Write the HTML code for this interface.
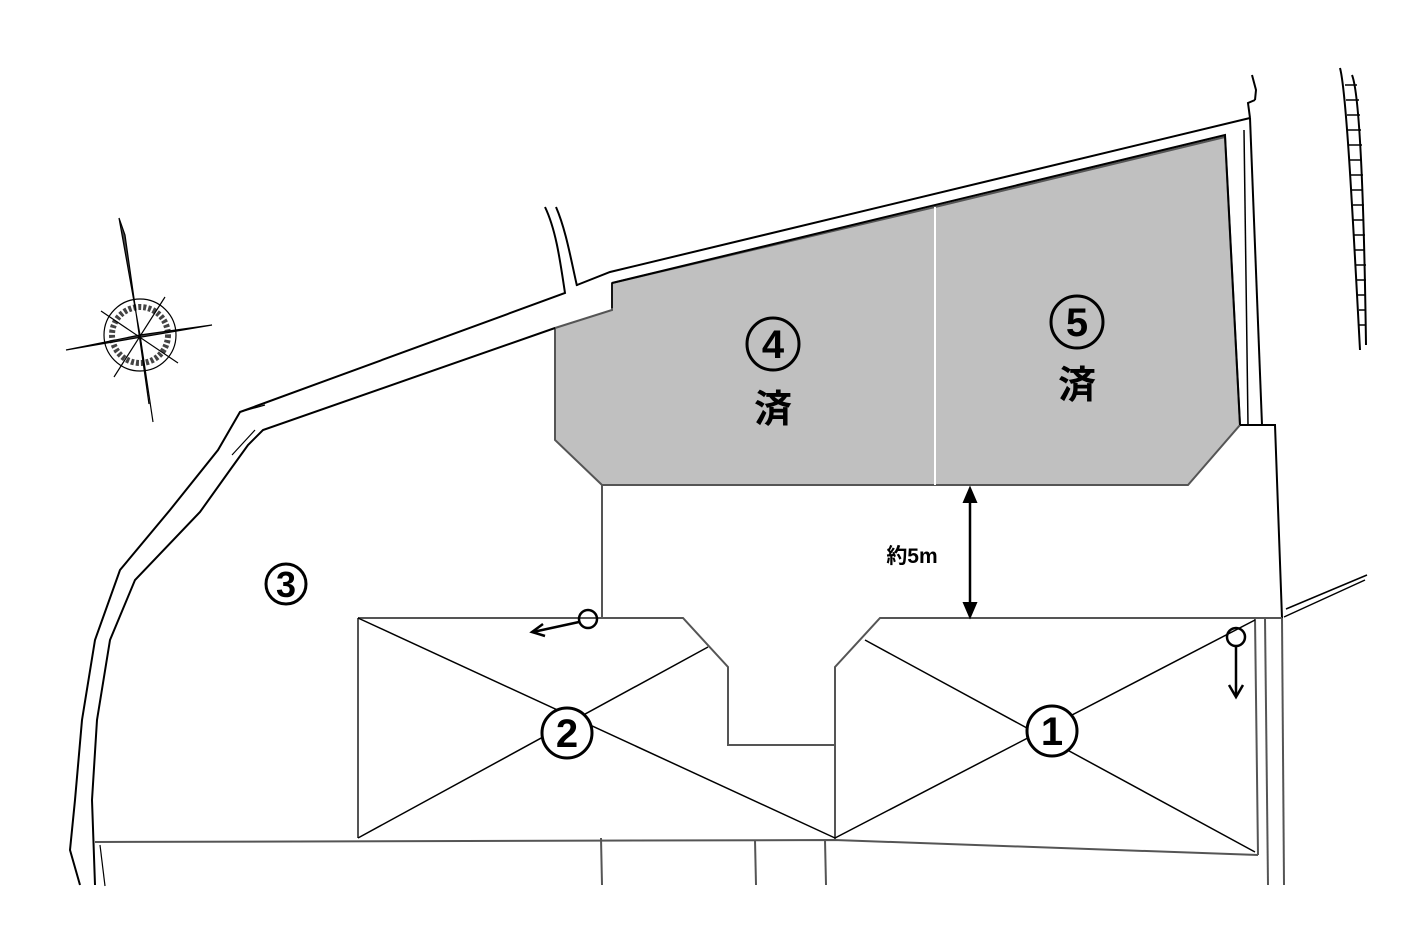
<!DOCTYPE html>
<html><head><meta charset="utf-8"><style>
html,body{margin:0;padding:0;background:#fff;width:1412px;height:932px;overflow:hidden}
svg{display:block}
text{font-family:"Liberation Sans","Noto Sans CJK JP",sans-serif;fill:#000;font-weight:bold}
</style></head><body>
<svg width="1412" height="932" viewBox="0 0 1412 932" xmlns="http://www.w3.org/2000/svg">
<g fill="none" stroke="#000" stroke-width="2">
<!-- gray lots -->
<polygon points="555,328 612,310 612,283 935,207 935,485 602,485 555,440" fill="#c0c0c0" stroke="#555"/>
<polygon points="935,207 1225,137 1240,425 1188,485 935,485" fill="#c0c0c0" stroke="#555"/>
<line x1="935" y1="207" x2="935" y2="485" stroke="#fff" stroke-width="2"/>
<!-- north wall -->
<polyline points="577,285 610,272 1250,118"/>
<polyline points="612,283 1225,135 1240,425"/>
<line x1="612" y1="283" x2="612" y2="308" stroke-width="1.5"/>
<polyline points="1250,118 1262,425" />
<polyline points="1255,100 1248,103 1250,118"/>
<polyline points="1252,75 1256,90 1255,100"/>
<polyline points="1240,425 1275,425 1282,618"/>
<line x1="1248" y1="425" x2="1244" y2="130" stroke-width="1.5"/>
<!-- left curved road -->
<path d="M545,207 C556,230 560,260 565,293 L240,412 L218,450 L170,510 L120,570 L95,640 L82,720 L75,800 L70,850 L80,885"/>
<path d="M556,207 C566,230 571,260 577,286"/>
<path d="M555,328 L263,430 L248,445 L230,470 L200,512 L135,580 L110,640 L97,720 L92,800 L95,885"/>
<path d="M232,455 L255,430" stroke-width="1.2"/>
<path d="M240,412 L265,405" stroke-width="1.2"/>
<path d="M105,886 L100,845" stroke-width="1.2"/>
<!-- driveway & buildings -->
<g stroke="#555">
<line x1="602" y1="485" x2="602" y2="618"/>
<polyline points="358,618 683,618 728,667 728,745 835,745 835,667 880,618 1282,618"/>
<line x1="358" y1="618" x2="358" y2="838"/>
<line x1="835" y1="667" x2="835" y2="840"/>
<polyline points="95,842 835,840 1258,855"/>
<line x1="1255" y1="618" x2="1258" y2="855"/>
<line x1="1265" y1="618" x2="1268" y2="885"/>
<line x1="1282" y1="618" x2="1284" y2="885"/>
<line x1="601" y1="838" x2="602" y2="885"/>
<line x1="755" y1="840" x2="756" y2="885"/>
<line x1="825" y1="840" x2="826" y2="885"/>
</g>
<g stroke="#000" stroke-width="1.5">
<line x1="358" y1="618" x2="835" y2="838"/>
<line x1="358" y1="838" x2="708" y2="647"/>
<line x1="865" y1="640" x2="1255" y2="852"/>
<line x1="835" y1="838" x2="1255" y2="620"/>
<line x1="1284" y1="617" x2="1365" y2="580"/>
<line x1="1286" y1="609" x2="1367" y2="575"/>
</g>
<!-- hatch curve -->
<path d="M1340,68 C1346,90 1352,200 1360,350" stroke-width="2"/>
<path d="M1352,75 C1360,95 1364,200 1366,345" stroke-width="2"/>
<g stroke-width="1.5">
<line x1="1345" y1="85" x2="1357" y2="85"/><line x1="1346" y1="100" x2="1359" y2="100"/><line x1="1347" y1="115" x2="1360" y2="115"/><line x1="1348" y1="130" x2="1361" y2="130"/><line x1="1349" y1="145" x2="1362" y2="145"/><line x1="1350" y1="160" x2="1362" y2="160"/><line x1="1351" y1="175" x2="1363" y2="175"/><line x1="1352" y1="190" x2="1363" y2="190"/><line x1="1353" y1="205" x2="1364" y2="205"/><line x1="1353" y1="220" x2="1364" y2="220"/><line x1="1354" y1="235" x2="1365" y2="235"/><line x1="1355" y1="250" x2="1365" y2="250"/><line x1="1356" y1="265" x2="1366" y2="265"/><line x1="1357" y1="280" x2="1366" y2="280"/><line x1="1358" y1="295" x2="1366" y2="295"/><line x1="1359" y1="310" x2="1366" y2="310"/><line x1="1359" y1="325" x2="1366" y2="325"/>
</g>
<!-- markers -->
<circle cx="588" cy="619" r="9" stroke-width="2.5"/>
<line x1="579" y1="622" x2="533" y2="632" stroke-width="2.5"/>
<polyline points="543,624 532,632 545,636" stroke-width="2.5"/>
<circle cx="1236" cy="637" r="9" stroke-width="2.5"/>
<line x1="1236" y1="646" x2="1236" y2="697" stroke-width="2.5"/>
<polyline points="1229,685 1236,697 1243,685" stroke-width="2.5"/>
<!-- dimension -->
<line x1="970" y1="490" x2="970" y2="614" stroke-width="2.5"/>
<polygon points="970,488 964,502 976,502" fill="#000"/>
<polygon points="970,617 964,603 976,603" fill="#000"/>
<!-- compass -->
<g stroke-width="1.2">
<circle cx="140" cy="335" r="36"/>
<circle cx="140" cy="335" r="28" stroke="#444" stroke-width="6" stroke-dasharray="3 2"/>
<polygon points="119,218 125,235 149,404 140,335" fill="#444"/>
<polygon points="66,350 212,325 140,335" fill="#444"/>
<line x1="140" y1="335" x2="153" y2="422"/>
<line x1="101" y1="311" x2="178" y2="363"/>
<line x1="165" y1="297" x2="114" y2="377"/>
</g>
<!-- circled number rings -->
<g stroke-width="3" fill="#fff">
<circle cx="286" cy="584" r="20"/>
<circle cx="567" cy="733" r="25"/>
<circle cx="1052" cy="731" r="25"/>
</g>
<g stroke-width="3">
<circle cx="773" cy="344" r="26"/>
<circle cx="1077" cy="322" r="26"/>
</g>
</g>
<g text-anchor="middle">
<text x="286" y="597" font-size="36">3</text>
<text x="567" y="747" font-size="40">2</text>
<text x="1052" y="745" font-size="40">1</text>
<text x="773" y="358" font-size="40">4</text>
<text x="773" y="422" font-size="38">済</text>
<text x="1077" y="336" font-size="40">5</text>
<text x="1077" y="398" font-size="38">済</text>
<text x="912" y="563" font-size="21">約5m</text>
</g>
</svg>
</body></html>
